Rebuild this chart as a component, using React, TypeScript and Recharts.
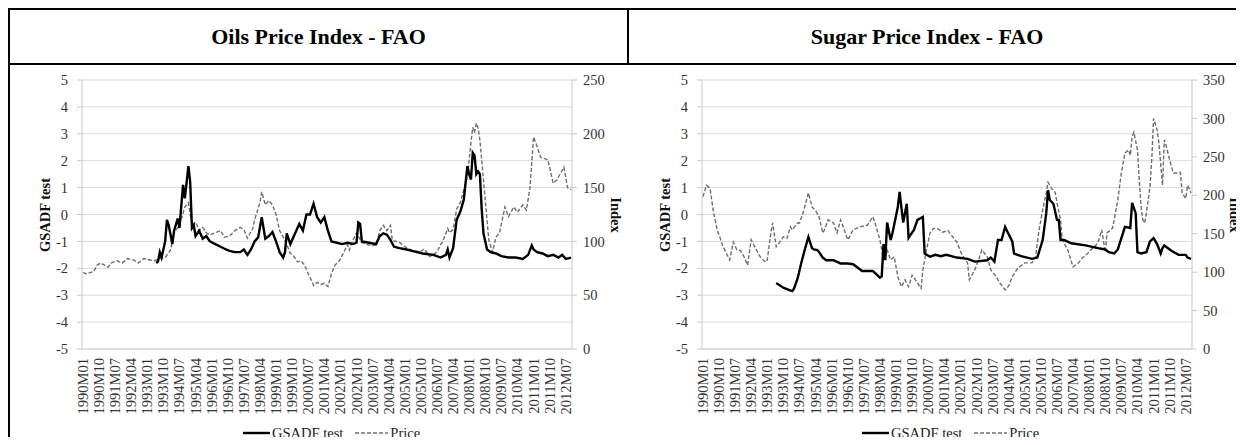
import React from 'react';
import { LineChart, Line, XAxis, YAxis, CartesianGrid } from 'recharts';

// x values are months counted from 1990M01 (= 0) up to 2012M10 (= 273)
const monthCount = 274;

const tickLabels = [
  '1990M01', '1990M10', '1991M07', '1992M04', '1993M01', '1993M10', '1994M07', '1995M04',
  '1996M01', '1996M10', '1997M07', '1998M04', '1999M01', '1999M10', '2000M07', '2001M04',
  '2002M01', '2002M10', '2003M07', '2004M04', '2005M01', '2005M10', '2006M07', '2007M04',
  '2008M01', '2008M10', '2009M07', '2010M04', '2011M01', '2011M10', '2012M07',
];

const gsadfTicks = [-5, -4, -3, -2, -1, 0, 1, 2, 3, 4, 5];
const oilsPriceTicks = [0, 50, 100, 150, 200, 250];
const sugarPriceTicks = [0, 50, 100, 150, 200, 250, 300, 350];

// [month, value]
const oilsGsadf: [number, number][] = [
  [41, -1.8], [42, -1.75], [43, -1.4], [44, -1.6], [45, -1.3], [46, -1.0], [47, -0.2], [48, -0.4],
  [50, -1.1], [51, -0.6], [53, -0.15], [54, -0.5], [56, 1.1], [57, 0.6], [59, 1.8], [60, 1.2],
  [61, -0.5], [62, -0.4], [63, -0.8], [65, -0.6], [67, -0.9], [69, -0.8], [71, -1.0], [74, -1.1],
  [77, -1.2], [80, -1.3], [82, -1.35], [85, -1.4], [88, -1.4], [90, -1.3], [92, -1.5], [94, -1.3],
  [96, -1.0], [98, -0.85], [100, -0.1], [101, -0.5], [102, -0.9], [104, -0.8], [106, -0.65],
  [108, -1.0], [110, -1.4], [112, -1.6], [113, -1.4], [114, -0.7], [116, -1.1], [118, -0.8],
  [121, -0.35], [123, -0.6], [125, 0.0], [127, 0.0], [129, 0.4], [131, -0.1], [133, -0.3],
  [135, -0.1], [137, -0.6], [139, -1.0], [142, -1.05], [145, -1.1], [148, -1.05], [151, -1.1],
  [153, -1.05], [154, -0.3], [155, -0.35], [156, -1.0], [160, -1.05], [164, -1.1], [166, -0.8],
  [168, -0.7], [170, -0.75], [172, -0.95], [174, -1.2], [177, -1.25], [181, -1.3], [184, -1.35],
  [190, -1.45], [196, -1.5], [200, -1.6], [203, -1.5], [204, -1.3], [205, -1.6], [207, -1.25],
  [209, -0.2], [211, 0.1], [213, 0.55], [215, 1.8], [216, 1.5], [217, 1.3], [218, 2.3], [219, 2.2],
  [220, 1.5], [221, 1.6], [222, 1.5], [223, 0.2], [224, -0.7], [226, -1.3], [228, -1.4],
  [231, -1.45], [234, -1.55], [238, -1.6], [242, -1.6], [246, -1.65], [249, -1.5], [251, -1.15],
  [252, -1.3], [254, -1.4], [257, -1.45], [260, -1.55], [263, -1.5], [266, -1.6], [268, -1.5],
  [270, -1.65], [273, -1.6],
];

const oilsPrice: [number, number][] = [
  [0, 71], [2, 70], [4, 71], [6, 72], [8, 78], [10, 80], [12, 78], [14, 76], [16, 80], [19, 82],
  [22, 80], [25, 84], [28, 83], [31, 80], [34, 84], [37, 83], [40, 82], [43, 84], [46, 85],
  [49, 92], [51, 108], [54, 115], [57, 132], [59, 136], [61, 115], [63, 118], [65, 110], [67, 113],
  [69, 108], [71, 106], [74, 108], [77, 110], [79, 104], [82, 105], [85, 110], [88, 113], [90, 111],
  [92, 103], [95, 112], [96, 120], [99, 136], [100, 146], [102, 134], [104, 138], [106, 134],
  [108, 125], [110, 110], [113, 101], [116, 89], [118, 86], [120, 81], [122, 82], [124, 78],
  [126, 70], [128, 63], [129, 59], [131, 62], [133, 60], [135, 61], [137, 58], [139, 70], [141, 78],
  [143, 81], [145, 87], [148, 97], [149, 92], [151, 101], [153, 108], [156, 99], [159, 97],
  [162, 96], [164, 97], [166, 110], [168, 115], [170, 110], [172, 115], [173, 101], [177, 99],
  [181, 94], [185, 91], [189, 91], [191, 93], [194, 86], [198, 90], [200, 97], [201, 99],
  [204, 112], [205, 108], [207, 111], [209, 130], [211, 136], [213, 148], [215, 160], [217, 192],
  [218, 206], [219, 201], [220, 210], [221, 205], [222, 194], [223, 176], [225, 138], [227, 101],
  [229, 90], [231, 104], [233, 108], [236, 132], [238, 123], [241, 132], [243, 127], [246, 134],
  [248, 129], [250, 150], [252, 197], [254, 188], [256, 178], [260, 176], [263, 154], [265, 157],
  [269, 169], [271, 150], [273, 148],
];

const sugarGsadf: [number, number][] = [
  [41, -2.55], [45, -2.72], [48, -2.8], [50, -2.85], [51, -2.75], [53, -2.37], [55, -1.8],
  [57, -1.3], [59, -0.84], [61, -1.25], [62, -1.3], [64, -1.32], [65, -1.4], [67, -1.6], [69, -1.7],
  [73, -1.7], [77, -1.82], [81, -1.82], [84, -1.85], [87, -2.0], [89, -2.1], [95, -2.1],
  [99, -2.35], [100, -2.3], [101, -1.1], [102, -1.7], [103, -0.3], [105, -0.95], [106, -0.7],
  [109, 0.28], [110, 0.84], [112, -0.3], [114, 0.4], [115, -0.87], [118, -0.57], [120, -0.2],
  [123, -0.09], [124, -1.45], [127, -1.57], [130, -1.5], [133, -1.55], [136, -1.5], [139, -1.55],
  [142, -1.6], [148, -1.65], [152, -1.75], [159, -1.7], [161, -1.6], [163, -1.75], [165, -0.95],
  [167, -0.95], [169, -0.46], [170, -0.6], [173, -1.0], [174, -1.45], [178, -1.55], [184, -1.65],
  [187, -1.6], [190, -0.95], [192, 0.05], [193, 0.9], [194, 0.54], [196, 0.4], [198, -0.2],
  [199, -0.2], [200, -0.95], [202, -0.95], [206, -1.07], [214, -1.15], [221, -1.25], [225, -1.3],
  [227, -1.4], [230, -1.45], [232, -1.3], [234, -0.88], [236, -0.46], [239, -0.5], [240, 0.43],
  [242, 0.05], [243, -1.4], [245, -1.45], [248, -1.4], [250, -1.0], [252, -0.88], [254, -1.1],
  [256, -1.45], [257, -1.25], [258, -1.15], [262, -1.35], [266, -1.5], [270, -1.5], [271, -1.6],
  [273, -1.65],
];

const sugarPrice: [number, number][] = [
  [0, 198], [2, 213], [4, 209], [6, 177], [8, 155], [10, 142], [11, 135], [13, 125], [15, 116],
  [17, 139], [19, 129], [21, 128], [23, 120], [25, 109], [27, 142], [29, 133], [32, 120], [35, 113],
  [36, 116], [38, 151], [39, 164], [41, 133], [43, 139], [45, 146], [47, 144], [49, 159], [50, 155],
  [53, 164], [54, 164], [56, 177], [59, 203], [61, 185], [63, 180], [65, 172], [67, 151], [68, 155],
  [70, 168], [73, 164], [75, 151], [77, 168], [78, 162], [81, 142], [84, 155], [88, 159], [92, 161],
  [95, 172], [96, 166], [99, 142], [101, 116], [102, 120], [103, 129], [105, 116], [107, 120],
  [109, 94], [111, 81], [113, 90], [115, 81], [117, 96], [120, 86], [122, 79], [123, 103],
  [125, 129], [127, 151], [129, 157], [131, 157], [134, 152], [137, 154], [139, 148], [142, 139],
  [145, 122], [148, 112], [149, 90], [152, 103], [154, 115], [156, 129], [159, 120], [161, 103],
  [164, 94], [166, 86], [169, 77], [171, 82], [173, 94], [176, 105], [180, 112], [184, 112],
  [186, 120], [188, 155], [190, 181], [192, 203], [193, 217], [195, 209], [197, 204], [198, 190],
  [200, 168], [201, 142], [204, 129], [207, 107], [210, 112], [212, 118], [215, 124], [217, 129],
  [219, 133], [221, 139], [223, 155], [225, 126], [226, 151], [229, 157], [230, 168], [232, 194],
  [234, 229], [236, 255], [238, 259], [239, 252], [240, 276], [241, 282], [243, 259], [244, 220],
  [245, 185], [246, 168], [247, 164], [248, 177], [250, 211], [251, 246], [252, 300], [254, 285],
  [255, 268], [257, 213], [258, 272], [259, 265], [261, 246], [263, 229], [265, 229], [267, 230],
  [268, 203], [270, 196], [271, 213], [273, 203],
];

const serif = '"Times New Roman", "Liberation Serif", serif';

const monthIndex = (label: string) =>
  (Number(label.slice(0, 4)) - 1990) * 12 + Number(label.slice(5)) - 1;
const xTicks = tickLabels.map(monthIndex);
const toRows = (pts: [number, number][]) => pts.map(([m, v]) => ({ m, v }));

const XTick = (props: any) => {
  const { x, y, payload } = props;
  return (
    <text
      x={x}
      y={y}
      transform={`rotate(-90 ${x} ${y})`}
      textAnchor="end"
      dominantBaseline="central"
      fontSize={14.5}
      fontFamily={serif}
      fill="#333"
    >
      {tickLabels[xTicks.indexOf(payload.value)]}
    </text>
  );
};

const tickStyle = { fontSize: 14.5, fontFamily: serif, fill: '#333' };

interface PanelProps {
  gsadf: [number, number][];
  price: [number, number][];
  priceTicks: number[];
  left: number;
  width: number;
}

const Panel: React.FC<PanelProps> = ({ gsadf, price, priceTicks, left, width }) => (
  <div style={{ position: 'absolute', left, top: 57 }}>
    <LineChart width={width} height={380} margin={{ top: 15, right: 0, bottom: 0, left: 0 }}>
      <CartesianGrid yAxisId="g" vertical={false} stroke="#d9d9d9" />
      <XAxis
        type="number"
        dataKey="m"
        domain={[-0.5, monthCount - 0.5]}
        ticks={xTicks}
        interval={0}
        tick={<XTick />}
        tickLine={false}
        tickSize={0}
        tickMargin={9}
        height={96}
        axisLine={{ stroke: '#d0d0d0' }}
        allowDataOverflow
      />
      <YAxis
        yAxisId="g"
        domain={[-5, 5]}
        ticks={gsadfTicks}
        interval={0}
        width={72}
        tickSize={5}
        tickMargin={9}
        tick={tickStyle}
        axisLine={{ stroke: '#c8c8c8' }}
        tickLine={{ stroke: '#c8c8c8' }}
      />
      <YAxis
        yAxisId="p"
        orientation="right"
        domain={[0, priceTicks[priceTicks.length - 1]]}
        ticks={priceTicks}
        interval={0}
        width={width - 72 - 490}
        tickSize={5}
        tickMargin={6}
        tick={tickStyle}
        axisLine={{ stroke: '#c8c8c8' }}
        tickLine={{ stroke: '#c8c8c8' }}
      />
      <Line
        yAxisId="p"
        data={toRows(price)}
        dataKey="v"
        type="linear"
        stroke="#6e6e6e"
        strokeWidth={1.4}
        strokeDasharray="4 2"
        dot={false}
        isAnimationActive={false}
      />
      <Line
        yAxisId="g"
        data={toRows(gsadf)}
        dataKey="v"
        type="linear"
        stroke="#000"
        strokeWidth={2.4}
        dot={false}
        isAnimationActive={false}
      />
    </LineChart>
  </div>
);

const AxisTitle: React.FC<{ x: number; y: number; angle: number; text: string }> = ({ x, y, angle, text }) => (
  <div
    style={{
      position: 'absolute',
      left: x,
      top: y,
      transform: `translate(-50%, -50%) rotate(${angle}deg)`,
      whiteSpace: 'nowrap',
      fontFamily: serif,
      fontWeight: 'bold',
      fontSize: 14.5,
      color: '#111',
    }}
  >
    {text}
  </div>
);

const LegendRow: React.FC<{ left: number }> = ({ left }) => (
  <div
    style={{
      position: 'absolute',
      left,
      top: 415,
      height: 20,
      display: 'flex',
      alignItems: 'center',
      fontFamily: serif,
      fontSize: 14.5,
      color: '#222',
      whiteSpace: 'nowrap',
    }}
  >
    <svg width={27} height={4}>
      <line x1={0} y1={2} x2={27} y2={2} stroke="#000" strokeWidth={2.4} />
    </svg>
    <span style={{ marginLeft: 2 }}>GSADF test</span>
    <svg width={33} height={4} style={{ marginLeft: 12 }}>
      <line x1={0} y1={2} x2={33} y2={2} stroke="#6e6e6e" strokeWidth={1.4} strokeDasharray="4 2" />
    </svg>
    <span style={{ marginLeft: 2 }}>Price</span>
  </div>
);

const titleStyle: React.CSSProperties = {
  position: 'absolute',
  top: 2,
  height: 53,
  lineHeight: '53px',
  textAlign: 'center',
  fontFamily: serif,
  fontWeight: 'bold',
  fontSize: 22,
  whiteSpace: 'nowrap',
};

export default function App() {
  return (
    <div style={{ position: 'relative', width: 1236, height: 437, marginBottom: -8, overflow: 'hidden' }}>
      <div style={{ position: 'absolute', left: 0, top: 0, width: 1236, height: 2, background: '#000' }} />
      <div style={{ position: 'absolute', left: 0, top: 0, width: 2, height: 437, background: '#000' }} />
      <div style={{ position: 'absolute', left: 0, top: 55, width: 1236, height: 2, background: '#000' }} />
      <div style={{ position: 'absolute', left: 619, top: 0, width: 2, height: 57, background: '#000' }} />

      <div style={{ ...titleStyle, left: 2, width: 617 }}>Oils Price Index - FAO</div>
      <div style={{ ...titleStyle, left: 621, width: 596 }}>Sugar Price Index - FAO</div>

      <Panel gsadf={oilsGsadf} price={oilsPrice} priceTicks={oilsPriceTicks} left={2} width={616} />
      <Panel gsadf={sugarGsadf} price={sugarPrice} priceTicks={sugarPriceTicks} left={622} width={614} />

      <AxisTitle x={37} y={207} angle={-90} text="GSADF test" />
      <AxisTitle x={607} y={207} angle={90} text="Index" />
      <AxisTitle x={657} y={207} angle={-90} text="GSADF test" />
      <AxisTitle x={1226} y={207} angle={90} text="Index" />

      <LegendRow left={235} />
      <LegendRow left={854} />
    </div>
  );
}
